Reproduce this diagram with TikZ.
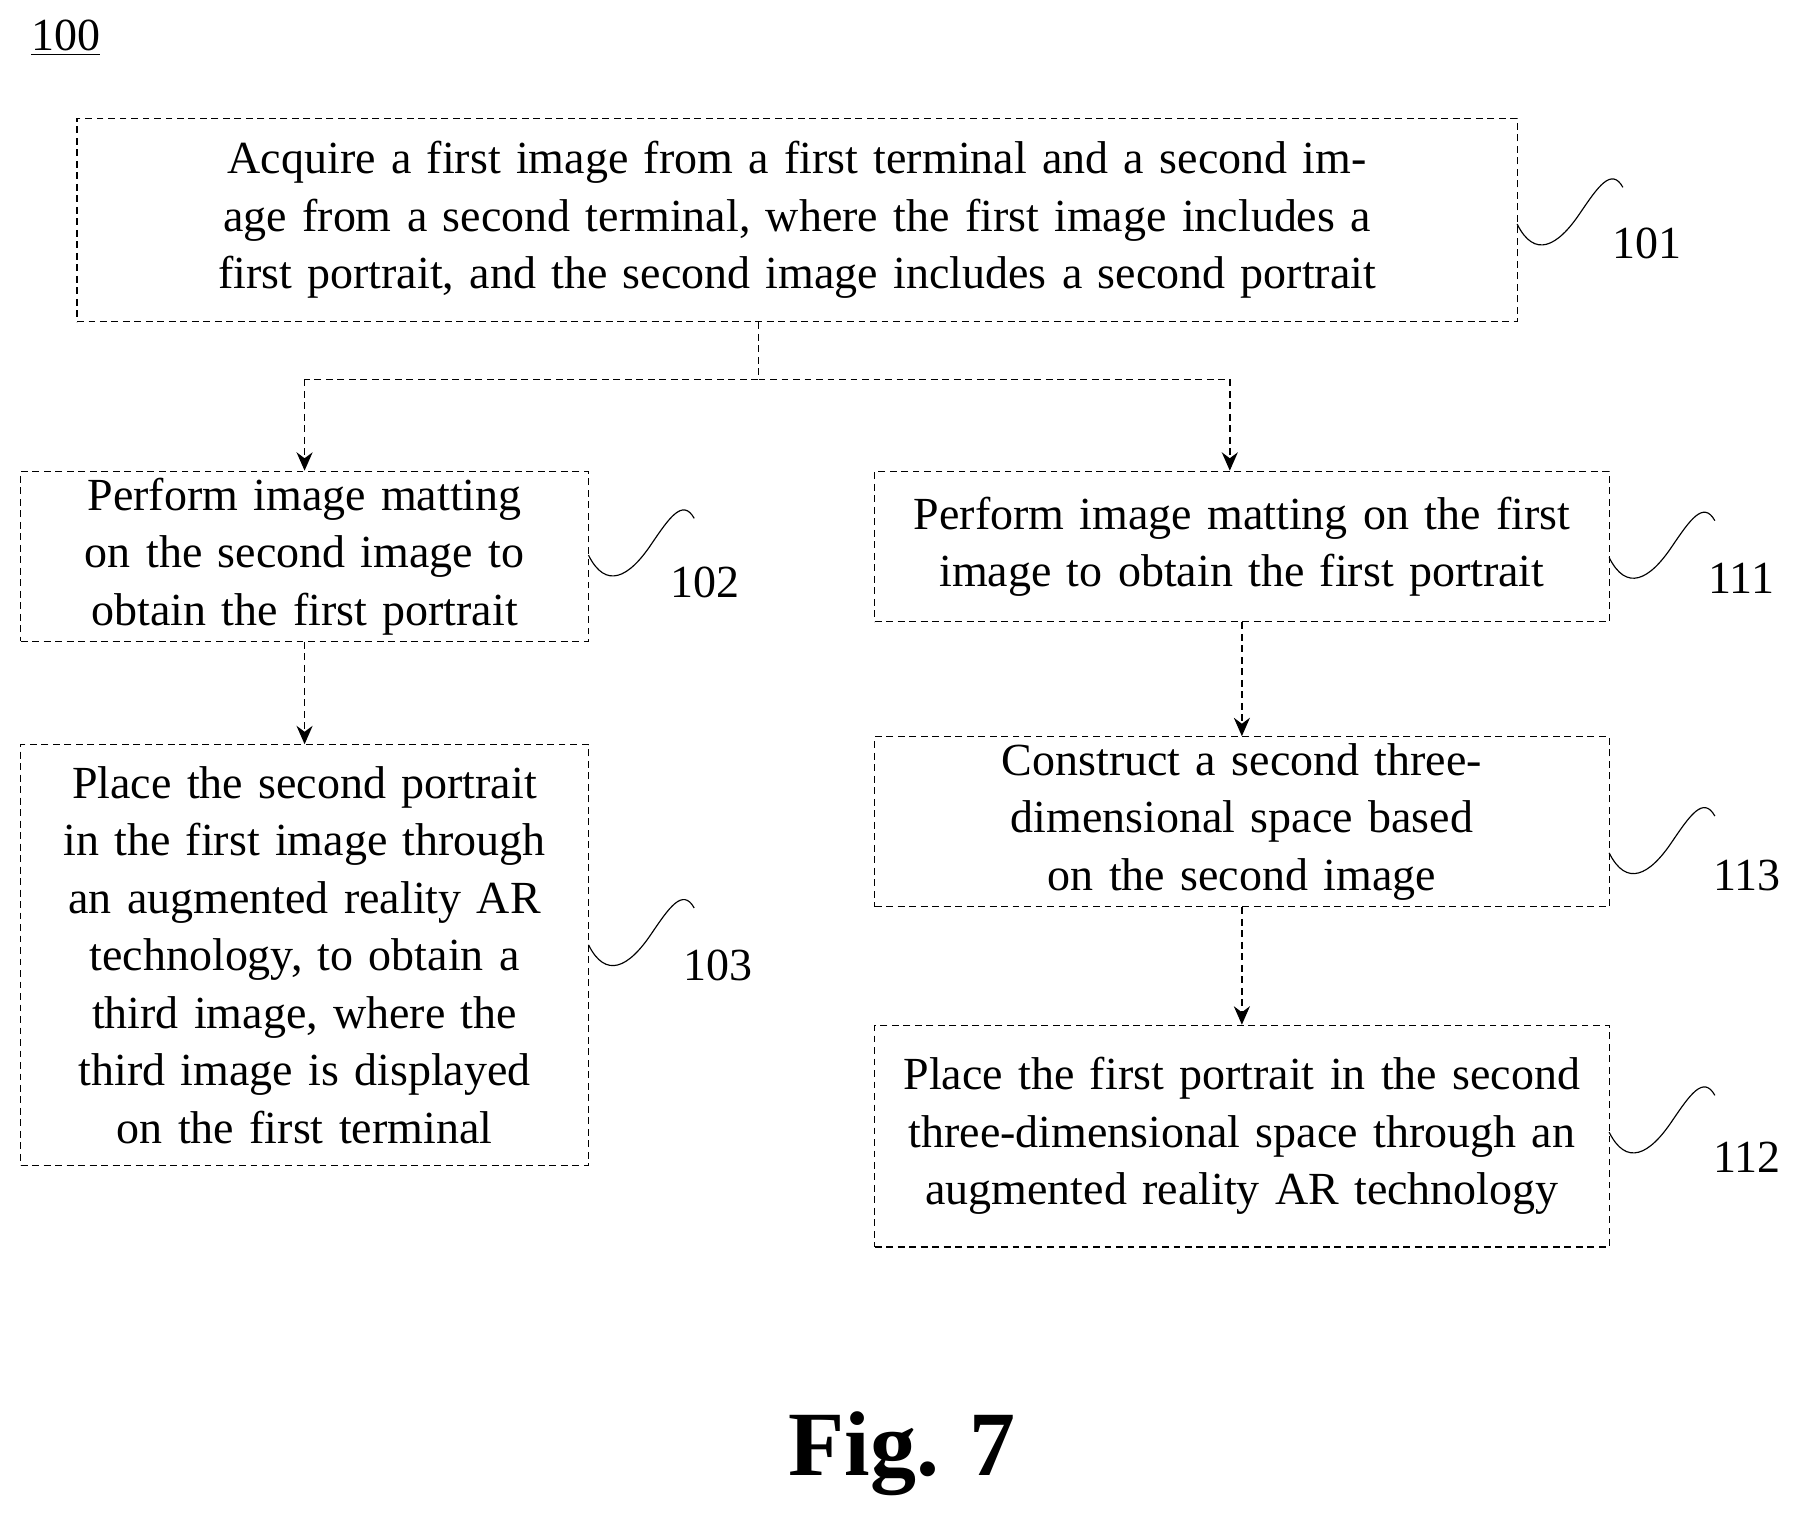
\documentclass[tikz,border=0pt]{standalone}
\usepackage{fontspec}
\setmainfont{Liberation Serif}
\usetikzlibrary{arrows.meta}
\begin{document}
\begin{tikzpicture}[x=0.5pt,y=-0.5pt,
  box/.style={draw, densely dashed, line width=0.5pt, inner sep=0pt, align=center, font=\fontsize{20}{25}\selectfont},
  con/.style={densely dashed, line width=0.6pt},
  arr/.style={con, -{Stealth[length=8pt,width=7pt]}},
  sq/.style={line width=0.5pt},
  lab/.style={font=\fontsize{20}{24}\selectfont}]
\useasboundingbox (0,0) rectangle (1560,1316);
\node[lab] (n100) at (57,33) {\underline{100}};
\node[box, minimum width=626.5pt, minimum height=88.5pt, text width=610pt] (b101) at (693.5,191.5)
  {Acquire a first image from a first terminal and a second image from a second terminal, where the first image includes a first portrait, and the second image includes a second portrait};
\node[box, minimum width=247pt, minimum height=74pt, text width=240pt] (b102) at (265,484)
  {Perform image matting on the second image to obtain the first portrait};
\node[box, minimum width=247pt, minimum height=183pt, text width=240pt] (b103) at (265,831)
  {Place the second portrait in the first image through an augmented reality AR technology, to obtain a third image, where the third image is displayed on the first terminal};
\node[box, minimum width=319.5pt, minimum height=65.5pt, text width=300pt] (b111) at (1080.5,475.5)
  {Perform image matting on the first image to obtain the first portrait};
\node[box, minimum width=319.5pt, minimum height=74pt, text width=270pt] (b113) at (1080.5,715)
  {Construct a second three-\\dimensional space based on the second image};
\node[box, minimum width=319.5pt, minimum height=96.5pt, text width=310pt] (b112) at (1080.5,988.5)
  {Place the first portrait in the second three-dimensional space through an augmented reality AR technology};
\coordinate (j) at (660,330);
\coordinate (jl) at (265,330);
\coordinate (jr) at (1070,330);
\draw[con] (b101.south -| j) -- (j) -- (jl);
\draw[con] (j) -- (jr);
\draw[arr] (jl) -- (b102.north -| jl);
\draw[arr] (jr) -- (b111.north -| jr);
\draw[arr] (b102) -- (b103);
\draw[arr] (b111) -- (b113);
\draw[arr] (b113) -- (b112);
\node[lab] (l101) at (1433,212) {101};
\node[lab] (l102) at (613,507) {102};
\node[lab] (l103) at (625,840) {103};
\node[lab] (l111) at (1515,503) {111};
\node[lab] (l113) at (1520,762) {113};
\node[lab] (l112) at (1520,1007) {112};
\foreach \x/\y/\n in {1320/195/101, 512/483/102, 512/822/103, 1400/485/111, 1400/742/113, 1400/985/112}{
  \draw[sq] (\x,\y) .. controls (\x+15,\y+30) and (\x+35,\y+20) .. (\x+55,\y-10)
     .. controls (\x+70,\y-32) and (\x+82,\y-50) .. (\x+92,\y-32);
}
\node[font=\bfseries\fontsize{40}{44}\selectfont] (fig) at (785,1265) {Fig. 7};
\end{tikzpicture}
\end{document}
